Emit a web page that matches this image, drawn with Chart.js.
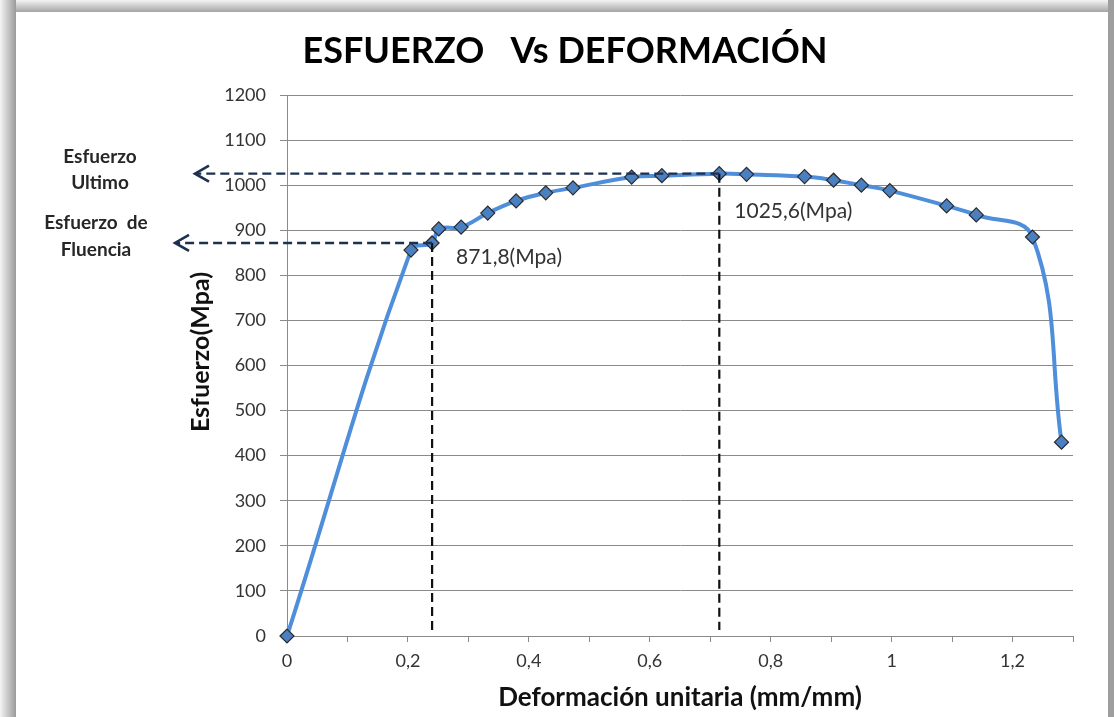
<!DOCTYPE html>
<html>
<head>
<meta charset="utf-8">
<script src="https://cdn.jsdelivr.net/npm/chart.js@4.4.1/dist/chart.umd.min.js"></script>
<style>
  html, body { margin: 0; padding: 0; }
  body { width: 1114px; height: 717px; position: relative; overflow: hidden; background: #ffffff; }
  #edgeTop { position: absolute; left: 0; top: 0; width: 1114px; height: 12px;
             background: linear-gradient(to bottom, #f4f4f4, #a4a4a4); }
  #edgeLeft { position: absolute; left: 0; top: 0; width: 16px; height: 717px;
              background: linear-gradient(to right, #f4f4f4, #9a9a9a); }
  #edgeRight { position: absolute; left: 1108px; top: 0; width: 6px; height: 717px; background: #9e9e9e; }
  #wrap { position: absolute; left: 0; top: 0; width: 1114px; height: 717px; }
</style>
</head>
<body>
<div id="edgeTop"></div>
<div id="edgeLeft"></div>
<div id="edgeRight"></div>
<div id="wrap"><canvas id="chart" width="1114" height="717"></canvas></div>
<script>
// Tensile test: engineering strain (mm/mm) and stress (MPa)
const strain = [0, 0.205, 0.24, 0.251, 0.288, 0.332, 0.379, 0.428, 0.473, 0.570, 0.620,
                0.715, 0.760, 0.856, 0.904, 0.950, 0.997, 1.091, 1.140, 1.233, 1.281];
const stress = [0, 856, 871.8, 903, 907, 938, 965, 983, 994, 1018, 1021,
                1025.6, 1024, 1019, 1011, 1000, 988, 954, 934, 885, 430];

const chartTitle = 'ESFUERZO   Vs DEFORMACIÓN';
const xTitle = 'Deformación unitaria (mm/mm)';
const yTitle = 'Esfuerzo(Mpa)';
const yieldIndex = 2;      // yield point (Esfuerzo de Fluencia)
const ultimateIndex = 11;  // ultimate point (Esfuerzo Ultimo)
const yieldText = ['Esfuerzo  de', 'Fluencia'];
const ultimateText = ['Esfuerzo', 'Ultimo'];

const FONT = 'Lato, "Open Sans", sans-serif';
const decimalComma = v => String(v).replace('.', ',');

function dashedArrow(ctx, x1, y, tipX, color) {
  ctx.save();
  ctx.strokeStyle = color;
  ctx.lineWidth = 2.4;
  ctx.setLineDash([9, 5]);
  ctx.beginPath();
  ctx.moveTo(x1, y);
  ctx.lineTo(tipX + 2, y);
  ctx.stroke();
  ctx.setLineDash([]);
  ctx.lineWidth = 2.6;
  ctx.beginPath();
  ctx.moveTo(tipX + 14, y - 8);
  ctx.lineTo(tipX, y);
  ctx.lineTo(tipX + 14, y + 8);
  ctx.stroke();
  ctx.restore();
}

function dashedDrop(ctx, x, y1, y2) {
  ctx.save();
  ctx.strokeStyle = '#111111';
  ctx.lineWidth = 2.2;
  ctx.setLineDash([9, 5]);
  ctx.beginPath();
  ctx.moveTo(x, y1);
  ctx.lineTo(x, y2);
  ctx.stroke();
  ctx.restore();
}

const annotations = {
  id: 'annotations',
  afterDatasetsDraw(chart) {
    const { ctx, scales: { x, y } } = chart;
    const yx = x.getPixelForValue(strain[yieldIndex]);
    const yy = y.getPixelForValue(stress[yieldIndex]);
    const ux = x.getPixelForValue(strain[ultimateIndex]);
    const uy = y.getPixelForValue(stress[ultimateIndex]);
    const base = y.getPixelForValue(0);

    dashedDrop(ctx, yx, yy, base - 6);
    dashedDrop(ctx, ux, uy, base - 6);
    dashedArrow(ctx, yx, yy, 175, '#1c3050');
    dashedArrow(ctx, ux, uy, 195, '#1c3050');

    ctx.save();
    ctx.fillStyle = '#333333';
    ctx.font = '21px ' + FONT;
    ctx.textAlign = 'left';
    ctx.textBaseline = 'middle';
    ctx.fillText(decimalComma(stress[yieldIndex]) + '(Mpa)', yx + 24, yy + 14);
    ctx.fillText(decimalComma(stress[ultimateIndex]) + '(Mpa)', ux + 15, uy + 38);

    ctx.fillStyle = '#262626';
    ctx.font = 'bold 19px ' + FONT;
    ctx.textAlign = 'center';
    ctx.fillText(ultimateText[0], 100, 157);
    ctx.fillText(ultimateText[1], 100, 183);
    ctx.fillText(yieldText[0], 96, 223);
    ctx.fillText(yieldText[1], 96, 250);

    ctx.fillStyle = '#000000';
    ctx.font = 'bold 36px ' + FONT;
    ctx.fillText(chartTitle, 565, 51);

    ctx.fillStyle = '#111111';
    ctx.font = 'bold 25px ' + FONT;
    ctx.translate(201, 352);
    ctx.rotate(-Math.PI / 2);
    ctx.fillText(yTitle, 0, 0);
    ctx.restore();
  }
};

new Chart(document.getElementById('chart'), {
  type: 'line',
  data: {
    datasets: [{
      data: strain.map((s, i) => ({ x: s, y: stress[i] })),
      borderColor: '#4f8edb',
      borderWidth: 4,
      tension: 0.4,
      fill: false,
      clip: false,
      pointStyle: 'rectRot',
      pointRadius: 7,
      pointBackgroundColor: '#4a7fc0',
      pointBorderColor: '#2a2a2a',
      pointBorderWidth: 1.2
    }]
  },
  options: {
    responsive: false,
    animation: false,
    layout: { padding: { left: 190, right: 41, top: 95, bottom: 4 } },
    plugins: { legend: { display: false }, tooltip: { enabled: false }, title: { display: false } },
    scales: {
      x: {
        type: 'linear',
        min: 0,
        max: 1.3,
        afterFit: s => { s.height = 77; },
        ticks: {
          stepSize: 0.1,
          autoSkip: false,
          maxRotation: 0,
          padding: 8,
          color: '#333333',
          font: { family: FONT, size: 18 },
          callback: v => {
            const t = Math.round(v * 10);
            return t % 2 === 0 ? decimalComma(t / 10) : '';
          }
        },
        grid: { drawOnChartArea: false, drawTicks: true, tickLength: 6, color: '#8a8a8a' },
        border: { color: '#8a8a8a' },
        title: {
          display: true,
          text: xTitle,
          color: '#111111',
          font: { family: FONT, size: 26, weight: 'bold' },
          padding: { top: 0, bottom: 0 }
        }
      },
      y: {
        min: 0,
        max: 1200,
        afterFit: s => { s.width = 97; },
        ticks: {
          stepSize: 100,
          padding: 14,
          color: '#333333',
          font: { family: FONT, size: 18 },
          callback: v => String(v)
        },
        grid: { color: '#8a8a8a', tickLength: 7 },
        border: { color: '#8a8a8a' }
      }
    }
  },
  plugins: [annotations]
});
</script>
</body>
</html>
